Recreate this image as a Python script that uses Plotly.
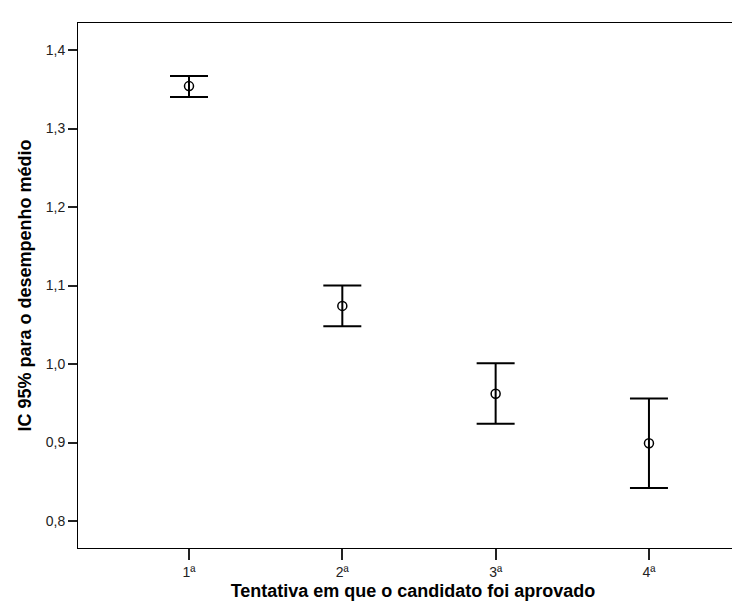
import plotly.graph_objects as go

categories = ["1ª", "2ª", "3ª", "4ª"]
positions = [1, 2, 3, 4]
means = [1.354, 1.074, 0.962, 0.899]
upper = [1.367, 1.100, 1.001, 0.956]
lower = [1.340, 1.048, 0.924, 0.842]
y_ticks = [0.8, 0.9, 1.0, 1.1, 1.2, 1.3, 1.4]

err_plus = [u - m for u, m in zip(upper, means)]
err_minus = [m - l for m, l in zip(means, lower)]

fig = go.Figure()
fig.add_trace(go.Scatter(
    x=positions, y=means, mode="markers",
    marker=dict(symbol="circle-open", size=9, color="black", line=dict(width=1.5, color="black")),
    error_y=dict(type="data", symmetric=False, array=err_plus, arrayminus=err_minus,
                 color="black", thickness=2, width=19),
    showlegend=False, hoverinfo="skip",
))

font_family = "Liberation Sans, Arial, sans-serif"
fig.update_layout(
    width=740, height=603,
    margin=dict(l=70, r=0, t=15, b=63, autoexpand=False),
    paper_bgcolor="white", plot_bgcolor="white",
    separators=",.",
    font=dict(family=font_family, color="#222"),
    xaxis=dict(
        range=[0.276, 4.646], tickvals=positions, ticktext=categories,
        showgrid=False, zeroline=False, showline=True, linecolor="black", linewidth=1,
        mirror=True, ticks="outside", ticklen=11, tickwidth=1.5, tickcolor="#222",
        tickfont=dict(size=14, color="#222", family=font_family),
        title=dict(text="Tentativa em que o candidato foi aprovado", standoff=5,
                   font=dict(size=18, color="black", family=font_family, weight="bold")),
        automargin=False,
    ),
    yaxis=dict(
        range=[0.7656, 1.4344], tickvals=y_ticks, tickformat=".1f",
        showgrid=False, zeroline=False, showline=True, linecolor="black", linewidth=1,
        ticks="outside", ticklen=9, tickwidth=1.5, tickcolor="#222",
        tickfont=dict(size=14, color="#222", family=font_family),
        title=dict(text="IC 95% para o desempenho médio", standoff=9,
                   font=dict(size=18, color="black", family=font_family, weight="bold")),
        automargin=False,
    ),
)

fig.write_html("out.html")
